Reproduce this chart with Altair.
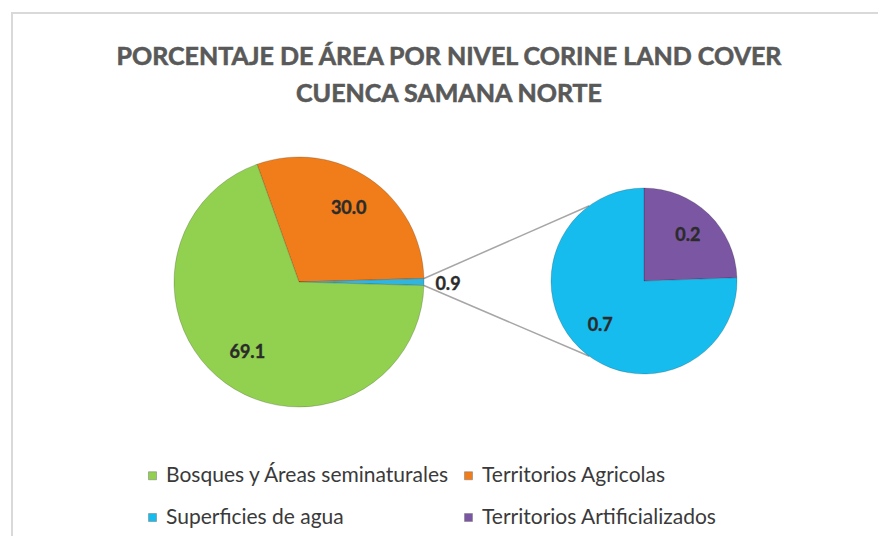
import math
import altair as alt
import pandas as pd

# ---------------- data ----------------
title_lines = ["PORCENTAJE DE ÁREA POR NIVEL CORINE LAND COVER", "CUENCA SAMANA NORTE"]

main_cats = ["Territorios Agricolas", "Otros", "Bosques y Áreas seminaturales"]
main_vals = [30.0, 0.9, 69.1]

sec_cats = ["Territorios Artificializados", "Superficies de agua"]
sec_vals = [0.22, 0.68]

legend_cats = ["Bosques y Áreas seminaturales", "Territorios Agricolas",
               "Superficies de agua", "Territorios Artificializados"]
color_domain = legend_cats + ["Otros"]
color_range = ["#92D050", "#F07D1A", "#17BCEE", "#7B57A3", "#31B5DF"]

# ---------------- layout (view coordinates) ----------------
W, H = 870, 528
C1X, C1Y, R1 = 291, 274, 125
C2X, C2Y, R2 = 636, 273, 93

main_df = pd.DataFrame({"cat": main_cats, "val": main_vals, "ord": list(range(len(main_cats)))})
sec_df = pd.DataFrame({"cat": sec_cats, "val": sec_vals, "ord": list(range(len(sec_cats)))})

main_total = sum(main_vals)
sec_total = sum(sec_vals)
other_i = main_cats.index("Otros")
before_other = sum(main_vals[:other_i])
# rotate so that the "Otros" slice is centred on 3 o'clock
a0 = math.pi / 2 - (before_other + main_vals[other_i] / 2) / main_total * 2 * math.pi
main_scale = alt.Scale(domain=[0, main_total], range=[a0, a0 + 2 * math.pi])
sec_scale = alt.Scale(domain=[0, sec_total], range=[0, 2 * math.pi])

color = alt.Color(
    "cat:N",
    scale=alt.Scale(domain=color_domain, range=color_range),
    legend=alt.Legend(
        orient="none", legendX=134, legendY=457, columns=2, direction="horizontal",
        symbolType="square", symbolSize=64, symbolStrokeWidth=0.5, symbolStrokeColor="#777777",
        labelFont="Lato", labelFontSize=21, labelColor="#3a3a3a", labelLimit=400,
        labelOffset=3, columnPadding=8, rowPadding=20, values=legend_cats, title=None,
    ),
)


def stacked(df):
    return (
        alt.Chart(df)
        .transform_window(end="sum(val)", sort=[alt.SortField("ord")], frame=[None, 0])
        .transform_calculate(start="datum.end - datum.val", mid="datum.end - datum.val / 2")
    )


label_style = dict(font="Lato", fontSize=18, fontWeight="bold", color="#2b2b2b",
                   stroke="#2b2b2b", strokeWidth=0.4)

# main pie
main_base = stacked(main_df)
main_arc = main_base.mark_arc(radius=R1, stroke="#000000", strokeOpacity=0.18, strokeWidth=1).encode(
    theta=alt.Theta("start:Q", scale=main_scale),
    theta2="end:Q",
    color=color,
    x=alt.value(C1X), y=alt.value(C1Y),
)
main_lbl_in = main_base.transform_filter("datum.cat != 'Otros'").mark_text(
    radius=88, **label_style
).encode(
    theta=alt.Theta("mid:Q", scale=main_scale),
    text=alt.Text("val:Q", format=".1f"),
    x=alt.value(C1X), y=alt.value(C1Y),
)
main_lbl_out = main_base.transform_filter("datum.cat == 'Otros'").mark_text(
    radius=149, **label_style
).encode(
    theta=alt.Theta("mid:Q", scale=main_scale),
    text=alt.Text("val:Q", format=".1f"),
    x=alt.value(C1X), y=alt.value(C1Y + 3),
)
main_layer = alt.layer(main_arc, main_lbl_in, main_lbl_out)

# secondary pie
sec_base = stacked(sec_df)
sec_arc = sec_base.mark_arc(radius=R2, stroke="#000000", strokeOpacity=0.18, strokeWidth=1).encode(
    theta=alt.Theta("start:Q", scale=sec_scale),
    theta2="end:Q",
    color=color,
    x=alt.value(C2X), y=alt.value(C2Y),
)
sec_lbl = sec_base.mark_text(radius=63, **label_style).encode(
    theta=alt.Theta("mid:Q", scale=sec_scale),
    text=alt.Text("val:Q", format=".1f"),
    x=alt.value(C2X), y=alt.value(C2Y),
)
sec_layer = alt.layer(sec_arc, sec_lbl)

# connector lines from the "Otros" slice edges to the secondary pie
half = main_vals[other_i] / main_total * math.pi  # half-angle of Otros slice
mid_other = math.pi / 2
e_up = mid_other - half
e_dn = mid_other + half
t_up = math.radians(324)
t_dn = math.radians(216)
conn_df = pd.DataFrame({
    "x1": [C1X + R1 * math.sin(e_up), C1X + R1 * math.sin(e_dn)],
    "y1": [C1Y - R1 * math.cos(e_up), C1Y - R1 * math.cos(e_dn)],
    "x2": [C2X + R2 * math.sin(t_up), C2X + R2 * math.sin(t_dn)],
    "y2": [C2Y - R2 * math.cos(t_up), C2Y - R2 * math.cos(t_dn)],
})
connectors = alt.Chart(conn_df).mark_rule(color="#A6A6A6", strokeWidth=1.5).encode(
    x=alt.X("x1:Q", scale=None, axis=None),
    y=alt.Y("y1:Q", scale=None, axis=None),
    x2="x2:Q",
    y2="y2:Q",
)

# chart frame
frame = alt.Chart(pd.DataFrame({"a": [0]})).mark_rect(
    fillOpacity=0, stroke="#D9D9D9", strokeWidth=2
).encode(x=alt.value(4), y=alt.value(5), x2=alt.value(W + 40), y2=alt.value(H + 40))

# title
title = alt.Chart(pd.DataFrame({"a": [0]})).mark_text(
    text=title_lines, font="Lato", fontSize=25, fontWeight="bold", color="#595959",
    stroke="#595959", strokeWidth=0.6,
    align="center", baseline="alphabetic", lineHeight=37,
).encode(x=alt.value(441), y=alt.value(57))

chart = alt.layer(frame, title, connectors, main_layer, sec_layer).resolve_scale(
    theta="independent"
).properties(
    width=W, height=H, padding=0, autosize=alt.AutoSizeParams(type="none"), background="white"
).configure_view(stroke=None)

chart.save("out.html", embed_options={"renderer": "svg", "actions": False})
